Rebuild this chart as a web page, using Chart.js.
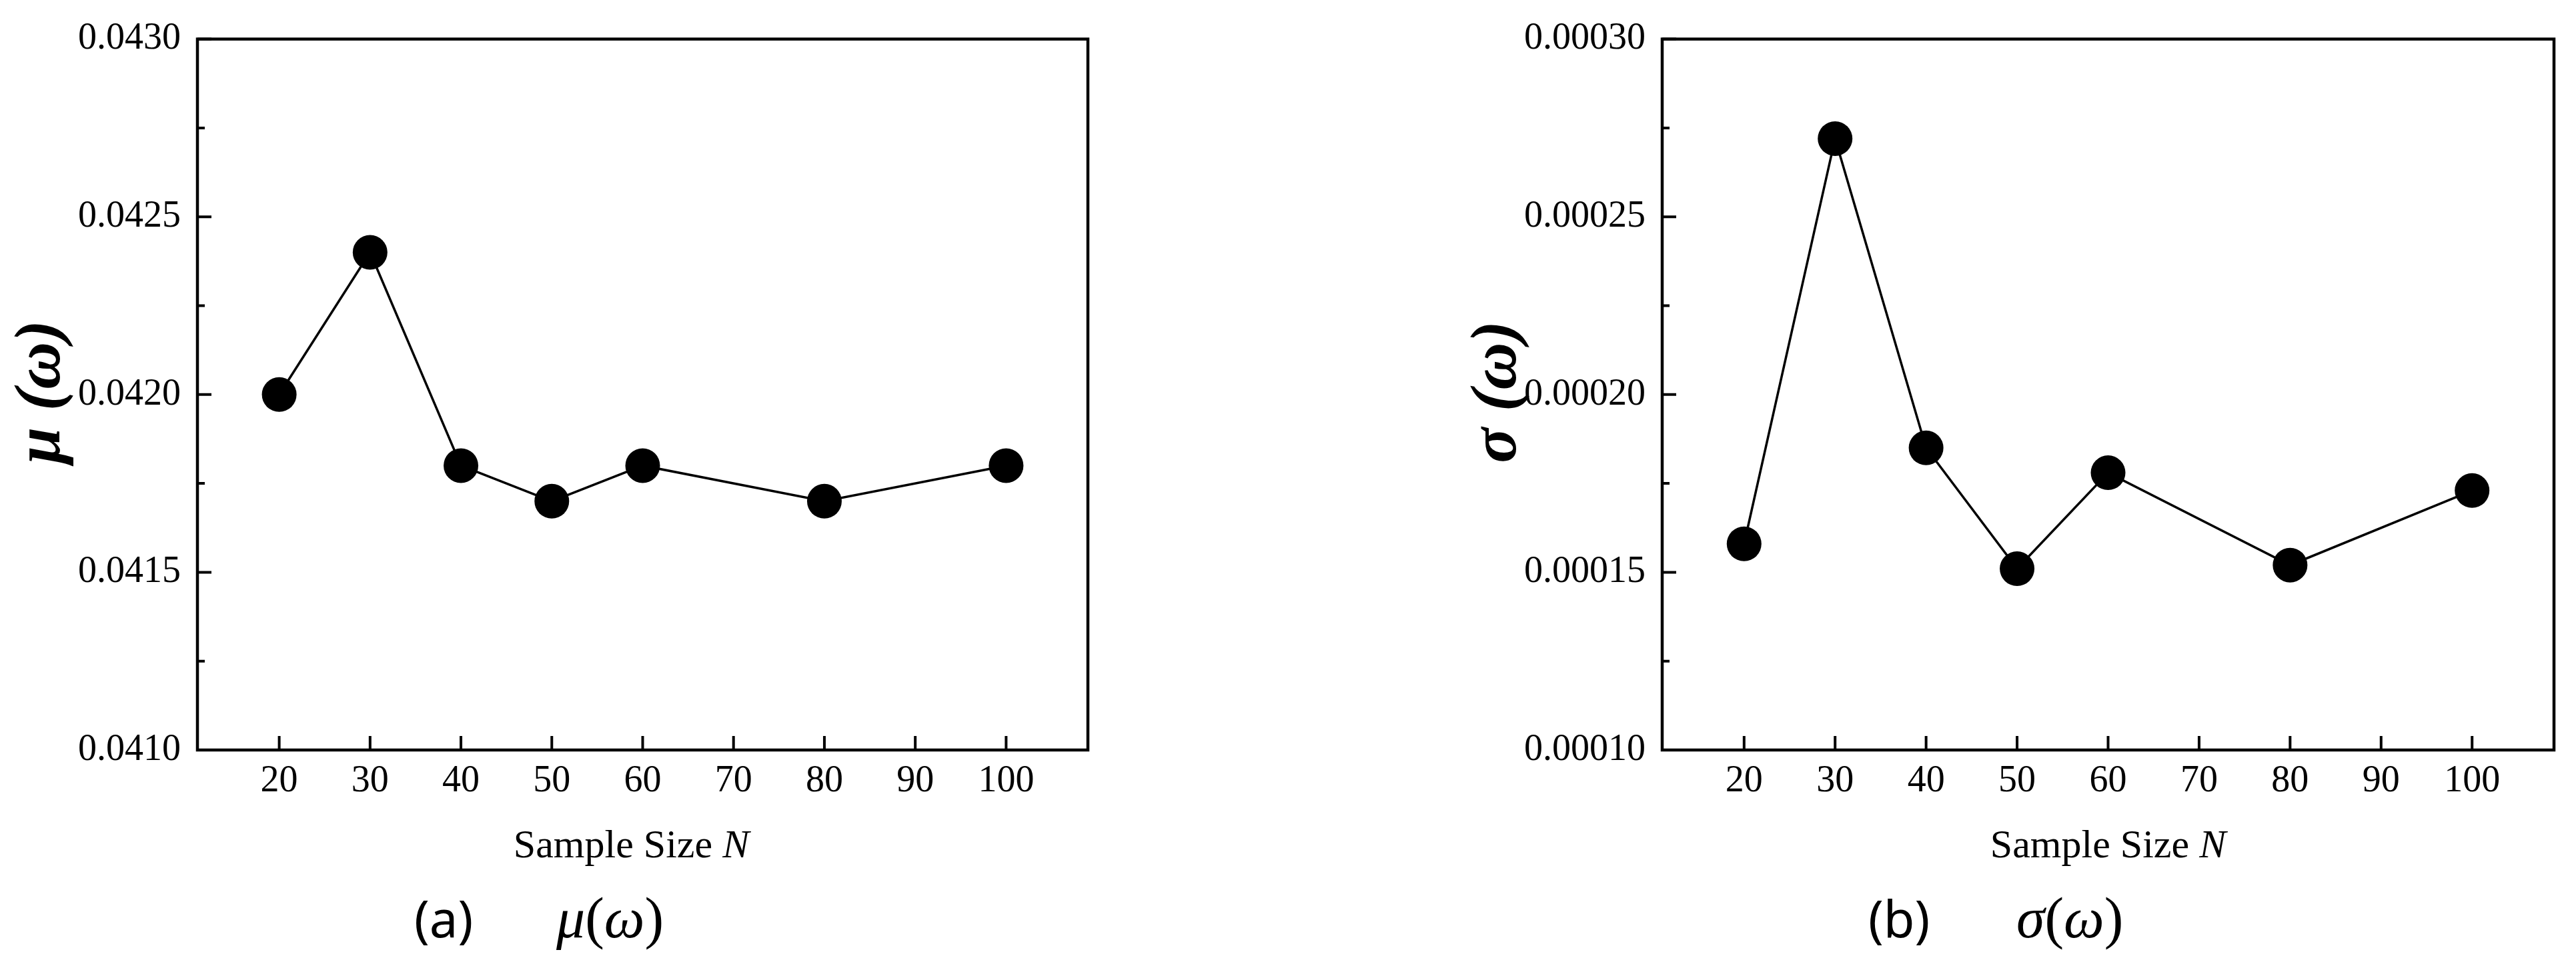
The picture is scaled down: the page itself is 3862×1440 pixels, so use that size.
<!DOCTYPE html>
<html>
<head>
<meta charset="utf-8">
<title>Sample size N vs mu / sigma of omega</title>
<script src="https://cdn.jsdelivr.net/npm/chart.js@4.4.1/dist/chart.umd.min.js"></script>
<style>
    html, body { margin: 0; padding: 0; background: #fff; }
    #wrap { position: relative; width: 3862px; height: 1440px; }
    .panel { position: absolute; top: 0; width: 1931px; height: 1440px; }
</style>
</head>
<body>
<div id="wrap">
    <div class="panel" style="left:0"><canvas id="muChart" width="1931" height="1440"></canvas></div>
    <div class="panel" style="left:1931px"><canvas id="sigmaChart" width="1931" height="1440"></canvas></div>
</div>
<script>
// ========== DATA ==========
const sampleSizes = [20, 30, 40, 50, 60, 80, 100];
const muValues = [0.0420, 0.0424, 0.0418, 0.0417, 0.0418, 0.0417, 0.0418];
const sigmaValues = [0.000158, 0.000272, 0.000185, 0.000151, 0.000178, 0.000152, 0.000173];

// tick values (major ones get labels)
const xTicks = [20, 30, 40, 50, 60, 70, 80, 90, 100];
const muMajorTicks = [0.0410, 0.0415, 0.0420, 0.0425, 0.0430];
const muMinorTicks = [0.04125, 0.04175, 0.04225, 0.04275];
const sigmaMajorTicks = [0.00010, 0.00015, 0.00020, 0.00025, 0.00030];
const sigmaMinorTicks = [0.000125, 0.000175, 0.000225, 0.000275];

const serif = '"Liberation Serif", "Times New Roman", serif';

// frame box + inward ticks, axis titles, panel caption
const paperAxes = {
    id: 'paperAxes',
    afterDatasetsDraw(chart, args, opts) {
        const { ctx, chartArea: a, scales: { x, y } } = chart;
        ctx.save();
        ctx.strokeStyle = '#000';
        ctx.lineWidth = 4;
        ctx.beginPath();
        x.ticks.forEach(t => {
            const px = x.getPixelForValue(t.value);
            ctx.moveTo(px, a.bottom);
            ctx.lineTo(px, a.bottom - 21);
        });
        y.ticks.forEach(t => {
            const py = y.getPixelForValue(t.value);
            ctx.moveTo(a.left, py);
            ctx.lineTo(a.left + 21, py);
        });
        opts.minor.forEach(v => {
            const py = y.getPixelForValue(v);
            ctx.moveTo(a.left, py);
            ctx.lineTo(a.left + 11, py);
        });
        ctx.stroke();
        ctx.lineWidth = 4.5;
        ctx.strokeRect(a.left, a.top, a.right - a.left, a.bottom - a.top);
        ctx.restore();
    },
    afterDraw(chart, args, opts) {
        const { ctx, chartArea: a } = chart;
        ctx.save();
        ctx.fillStyle = '#000';
        ctx.textBaseline = 'alphabetic';

        // y axis title, rotated, bold italic
        ctx.save();
        ctx.font = `italic bold 98px ${serif}`;
        ctx.translate(opts.yTitleX, (a.top + a.bottom) / 2 - 4);
        ctx.rotate(-Math.PI / 2);
        ctx.textAlign = 'center';
        ctx.textBaseline = 'middle';
        ctx.fillText(opts.yTitle, 0, 0);
        ctx.restore();

        // x axis title: "Sample Size " + italic N
        const plain = 'Sample Size ';
        ctx.font = `60px ${serif}`;
        const w1 = ctx.measureText(plain).width;
        ctx.font = `italic 60px ${serif}`;
        const w2 = ctx.measureText('N').width;
        const tx = (a.left + a.right) / 2 + opts.xTitleShift - (w1 + w2) / 2;
        ctx.font = `60px ${serif}`;
        ctx.fillText(plain, tx, 1286);
        ctx.font = `italic 60px ${serif}`;
        ctx.fillText('N', tx + w1, 1286);

        // caption: (a)   mu(omega)
        ctx.font = '76px "Noto Sans", sans-serif';
        ctx.fillText(opts.letter, opts.letterX, 1406);
        let cx = opts.symbolX;
        const parts = [[opts.symbol, true], ['(', false], ['ω', true], [')', false]];
        parts.forEach(([s, it]) => {
            ctx.font = `${it ? 'italic ' : ''}86px ${serif}`;
            ctx.fillText(s, cx, 1406);
            cx += ctx.measureText(s).width;
        });
        ctx.restore();
    }
};

function makeChart(canvasId, values, majorTicks, minorTicks, decimals, yTitle, panel) {
    const ctx = document.getElementById(canvasId).getContext('2d');
    return new Chart(ctx, {
        type: 'line',
        data: {
            datasets: [{
                data: sampleSizes.map((n, i) => ({ x: n, y: values[i] })),
                borderColor: '#000',
                borderWidth: 3.5,
                pointRadius: 26,
                pointHoverRadius: 26,
                pointBackgroundColor: '#000',
                pointBorderWidth: 0,
                tension: 0,
                clip: false
            }]
        },
        options: {
            responsive: false,
            devicePixelRatio: 1,
            animation: false,
            layout: { padding: { top: 50, right: panel.padRight, bottom: 0, left: 0 } },
            plugins: {
                legend: { display: false },
                tooltip: { enabled: false },
                paperAxes: {
                    minor: minorTicks,
                    yTitle: yTitle,
                    yTitleX: panel.yTitleX,
                    xTitleShift: panel.xTitleShift,
                    letter: panel.letter,
                    letterX: panel.letterX,
                    symbol: panel.symbol,
                    symbolX: panel.symbolX
                }
            },
            scales: {
                x: {
                    type: 'linear',
                    bounds: 'data',
                    min: 11,
                    max: 109,
                    grid: { display: false, drawTicks: false },
                    border: { display: false },
                    afterBuildTicks: scale => { scale.ticks = xTicks.map(v => ({ value: v })); },
                    afterFit: scale => { scale.height = 315; },
                    ticks: {
                        autoSkip: false,
                        maxRotation: 0,
                        padding: 14,
                        color: '#000',
                        font: { family: serif, size: 56 }
                    }
                },
                y: {
                    type: 'linear',
                    bounds: 'data',
                    min: majorTicks[0],
                    max: majorTicks[majorTicks.length - 1],
                    grid: { display: false, drawTicks: false },
                    border: { display: false },
                    afterBuildTicks: scale => { scale.ticks = majorTicks.map(v => ({ value: v })); },
                    afterFit: scale => { scale.width = panel.yWidth; },
                    ticks: {
                        padding: 25,
                        color: '#000',
                        font: { family: serif, size: 56 },
                        callback: v => Number(v).toFixed(decimals)
                    }
                }
            }
        },
        plugins: [paperAxes]
    });
}

makeChart('muChart', muValues, muMajorTicks, muMinorTicks, 4, 'μ (ω)',
    { yWidth: 296, padRight: 300, yTitleX: 64, xTitleShift: -17, letter: '(a)', letterX: 621, symbol: 'μ', symbolX: 834 });
makeChart('sigmaChart', sigmaValues, sigmaMajorTicks, sigmaMinorTicks, 5, 'σ (ω)',
    { yWidth: 561, padRight: 33, yTitleX: 316, xTitleShift: 0, letter: '(b)', letterX: 870, symbol: 'σ', symbolX: 1092 });
</script>
</body>
</html>
